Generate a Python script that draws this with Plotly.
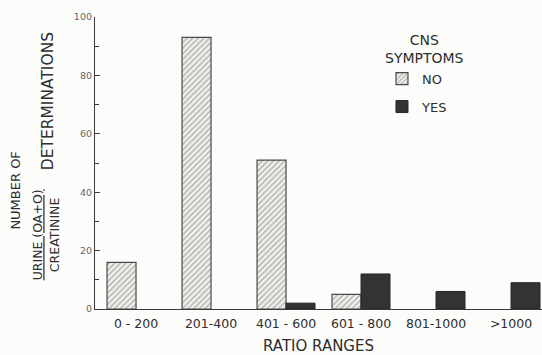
import plotly.graph_objects as go

categories = ["0 - 200", "201-400", "401 - 600", "601 - 800", "801-1000", ">1000"]
no_values = [16, 93, 51, 5, None, None]
yes_values = [None, None, 2, 12, 6, 9]
y_ticks = [0, 20, 40, 60, 80, 100]

TXT = "#2e2e2e"
FONT = "DejaVu Sans"

fig = go.Figure()
fig.add_trace(go.Bar(
    name="NO", x=categories, y=no_values, legendgroup="no",
    marker=dict(color="#f2f2ee", line=dict(color="#4a4a4a", width=1.2),
                pattern=dict(shape="/", fgcolor="#7a7a7a", bgcolor="#f2f2ee",
                             size=4, solidity=0.4)),
))
fig.add_trace(go.Bar(
    name="YES", x=categories, y=yes_values, legendgroup="yes",
    marker=dict(color="#333333", line=dict(color="#262626", width=1)),
))

def ann(text, x, y, size, angle=0):
    return dict(text=text, xref="paper", yref="paper", x=x, y=y, textangle=angle,
                xanchor="center", yanchor="middle", align="center",
                showarrow=False, font=dict(size=size, color=TXT, family=FONT))

fig.update_layout(
    width=542, height=355,
    margin=dict(l=95, r=0, t=17, b=46),
    paper_bgcolor="#fcfcfa", plot_bgcolor="#fcfcfa",
    barmode="group", bargap=0.227, bargroupgap=0,
    font=dict(family=FONT, color=TXT),
    showlegend=True,
    legend=dict(
        x=0.642, y=0.84, xanchor="left", yanchor="top",
        bgcolor="rgba(0,0,0,0)", tracegroupgap=8,
        font=dict(size=13, color=TXT, family=FONT),
    ),
    xaxis=dict(
        range=[-0.547, 5.413], showline=True, linecolor="#3a3a3a", linewidth=1.2,
        ticks="", tickfont=dict(size=12.5, color=TXT), showgrid=False, zeroline=False,
        ticklabelstandoff=3, automargin=False,
    ),
    yaxis=dict(
        range=[0, 100], tickvals=y_ticks, showline=True, linecolor="#3a3a3a",
        linewidth=1.2, ticks="inside", ticklen=5, tickcolor="#3a3a3a",
        minor=dict(dtick=10, ticks="inside", ticklen=4, tickcolor="#3a3a3a"),
        tickfont=dict(size=9.5, color="#666666"), showgrid=False, zeroline=False,
        automargin=False,
    ),
    annotations=[
        ann("RATIO RANGES", 0.5, -0.127, 15),
        ann("CNS<br>SYMPTOMS", 0.738, 0.891, 14),
        ann("NUMBER OF", -0.177, 0.405, 13, -90),
        ann("<u>URINE (OA+O)</u><br>CREATININE", -0.11, 0.255, 12.5, -90),
        ann("DETERMINATIONS", -0.106, 0.71, 15.5, -90),
    ],
)

fig.write_html("out.html", config={"displayModeBar": False},
               post_script="document.body.style.margin='0';document.body.style.overflow='hidden';")
